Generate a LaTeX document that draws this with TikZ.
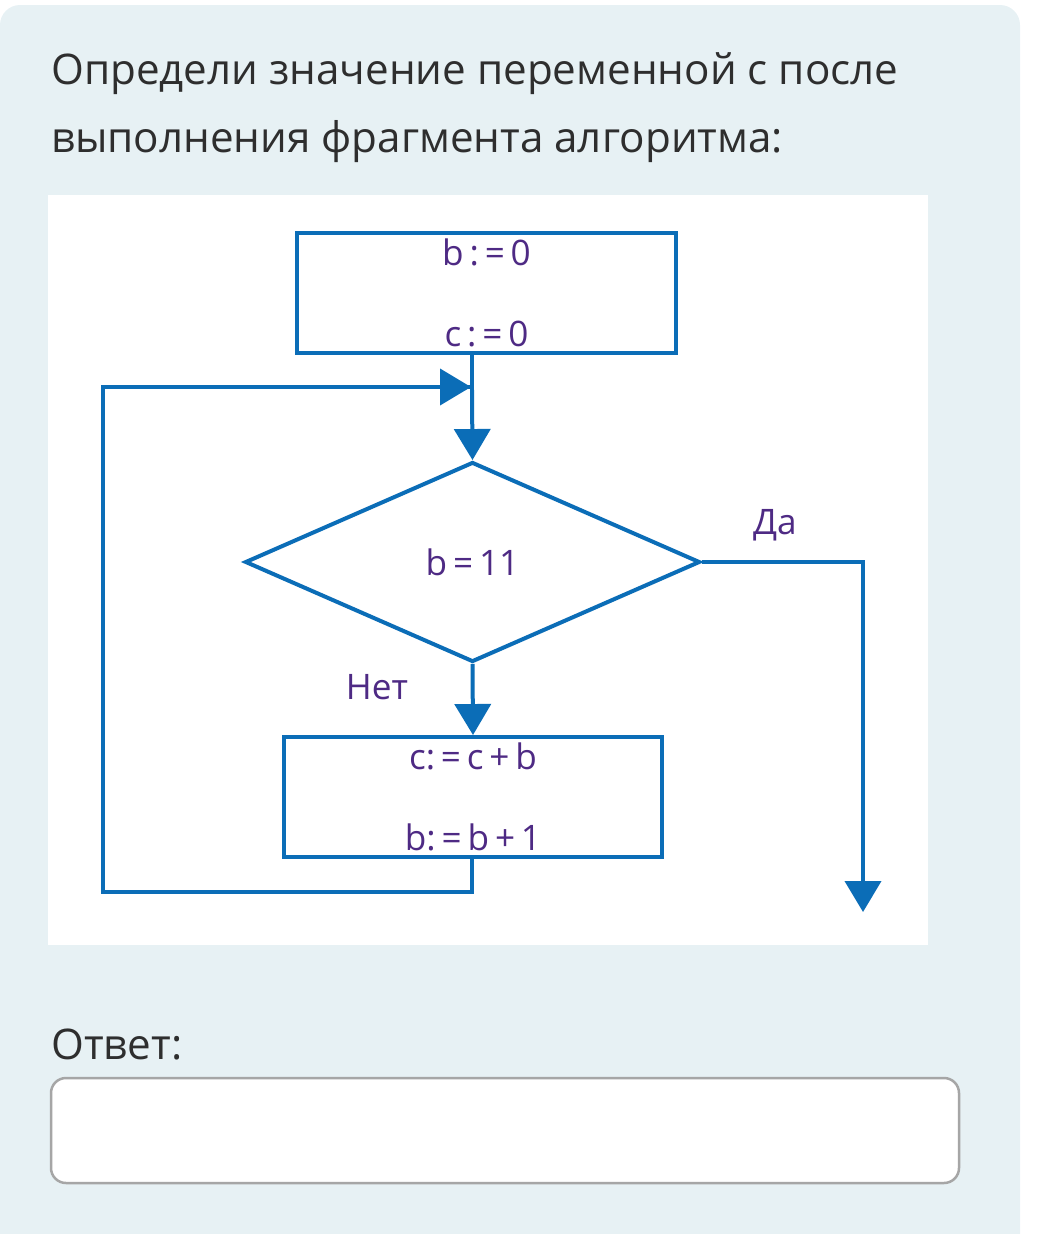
\documentclass[tikz,border=0pt]{standalone}
\usepackage{fontspec}
\setmainfont{Open Sans}
\usetikzlibrary{shapes.geometric, arrows.meta, positioning}
\definecolor{panelbg}{HTML}{E7F1F4}
\definecolor{flowblue}{HTML}{0B6DB7}
\definecolor{flowtext}{HTML}{4E2A84}
\definecolor{qtext}{HTML}{2E2E2E}
\tikzset{
  line/.style={flowblue, line width=0.08cm},
  arrow/.style={line, -{Triangle[width=0.72cm,length=0.62cm]}},
  block/.style={rectangle, draw=flowblue, line width=0.08cm, minimum width=7.58cm, minimum height=2.4cm, inner sep=0pt, align=center, text=flowtext, font=\fontsize{20}{46}\selectfont},
  decision/.style={diamond, draw=flowblue, line width=0.08cm, minimum width=9.1cm, minimum height=4cm, aspect=2.27, inner sep=0pt, text=flowtext, font=\fontsize{20}{24}\selectfont},
  label/.style={text=flowtext, font=\fontsize{20}{24}\selectfont},
  question/.style={anchor=west, text=qtext, font=\fontsize{24}{28}\selectfont}
}

\begin{document}
\begin{tikzpicture}[x=0.02cm, y=-0.02cm]
    \useasboundingbox (0,0) rectangle (1044,1234);
    % panel and picture area
    \fill[panelbg, rounded corners=0.4cm] (0,5) rectangle (1020,1260);
    \fill[white] (48,195) rectangle (928,945);

    \node (q1) [question] at (45,74) {Определи значение переменной с после};
    \node (q2) [question] at (45,142) {выполнения фрагмента алгоритма:};

    % flowchart
    \node (init) [block] at (486.5,293) {b\,:\,=\,0\\c\,:\,=\,0};
    \node (cond) [decision] at (472.5,562) {b\,=\,11};
    \node (body) [block] at (473,797) {c:\,=\,c\,+\,b\\b:\,=\,b\,+\,1};
    \coordinate (join) at (472,390);
    \coordinate (loopa) at (472,892);
    \coordinate (loopb) at (103,892);
    \coordinate (loopc) at (103,387);
    \coordinate (yes) at (863,562);
    \coordinate (exit) at (863,912);

    \draw [line] (join) -- (join |- init.south);
    \draw [arrow] (join) -- (cond.north);
    \draw [arrow] (cond.south) -- (body.north);
    \draw [line] (body.south -| loopa) -- (loopa) -- (loopb) -- (loopc) -- (470,387);
    \draw [arrow] (loopc) -- (471,387);
    \draw [arrow] (cond.east) -- (yes) -- (exit);
    \node (yeslbl) [label] at (775,525) {Да};
    \node (nolbl) [label] at (377,687) {Нет};

    % answer
    \node (ans) [question] at (45,1044) {Ответ:};
    \draw[gray!70, fill=white, line width=0.05cm, rounded corners=0.3cm] (51,1078) rectangle (959,1183);
\end{tikzpicture}
\end{document}
